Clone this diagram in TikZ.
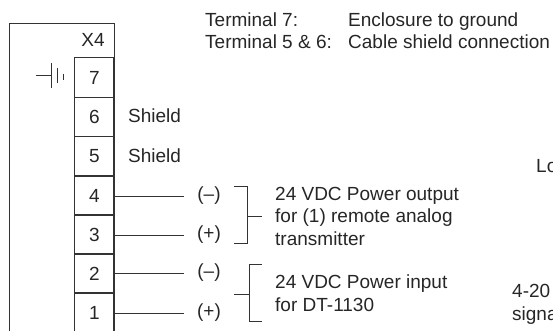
\documentclass[tikz,border=0pt]{standalone}
\usepackage{fontspec}
\setmainfont{Liberation Sans}
\def\terminallist{{77.5/7}, {117/6}, {156.5/5}, {195.5/4}, {234.5/3}, {273.5/2}, {312.5/1}}
\def\wirelist{{4/196/--}, {3/235/+}, {2/273/--}, {1/313/+}}
\tikzstyle{every node}=[font=\fontsize{19}{22.4}\selectfont,text=black!85,inner sep=0pt]
\tikzstyle{terminal}=[draw=black!80,line width=1pt,minimum width=38.7pt,minimum height=39.2pt]
\tikzstyle{polarity}=[minimum width=50pt]
\tikzstyle{note}=[anchor=base west,align=left]
\tikzstyle{wire}=[draw,black!80,line width=1pt]

\begin{document}
\begin{tikzpicture}[x=1pt,y=-1pt]
  \useasboundingbox (0,0) rectangle (553,330);
  \clip (0,0) rectangle (553,330);

  % First we draw the housing and the terminal strip
  \node[draw=black!80,line width=1pt,anchor=north west,minimum width=104.7pt,minimum height=330pt] (housing) at (9,22.7) {};
  \node[anchor=base] (x4) at (93,46.7) {X4};
  \foreach \ypos/\name in \terminallist {
    \node[terminal] (t\name) at (94.3,\ypos) {\name};
  }

  % Wires from the terminals
  \foreach \name/\ypos/\sign in \wirelist {
    \node[polarity] (p\name) at (209,\ypos) {(\sign)};
    \path[wire] (t\name.east |- p\name) -- (p\name);
  }

  % Ground symbol on terminal 7
  \coordinate (gnd) at (36,75.5);
  \coordinate (gnd-a) at (51.7,75.5);
  \path[wire] (gnd) -- (gnd-a);
  \path[wire] (51.7,63) -- (51.7,88);
  \path[wire] (57.3,68) -- (57.3,83);
  \path[wire] (63.3,73.5) -- (63.3,79.5);

  % Texts
  \node[note] (term7) at (205,26) {Terminal 7:};
  \node[note] (term56) at (205,48) {Terminal 5 \& 6:};
  \node[note] (encl) at (348,26) {Enclosure to ground};
  \node[note] (cable) at (348,48) {Cable shield connection};
  \node[note] (shield6) at (128,122.7) {Shield};
  \node[note] (shield5) at (128,162.7) {Shield};
  \node[note] (output) at (275,245) {24 VDC Power output\\for (1) remote analog\\transmitter};
  \node[note] (input) at (275,311) {24 VDC Power input\\for DT-1130};
  \node[note] (loop) at (536,172) {Lo};
  \node[note] (signal) at (512,320) {4-20\\signa};

  % The two brackets
  \coordinate (br1-top) at (234,186.5);
  \coordinate (br1-bot) at (234,243.7);
  \coordinate (br1-mid) at (247.5,216.8);
  \coordinate (br1-end) at (262,216.8);
  \path[wire] (br1-top) -| (br1-mid) |- (br1-bot);
  \path[wire] (br1-mid) -- (br1-end);

  \coordinate (br2-top) at (262,264.3);
  \coordinate (br2-bot) at (262,321);
  \coordinate (br2-mid) at (249.5,294.5);
  \coordinate (br2-end) at (234,294.5);
  \path[wire] (br2-top) -| (br2-mid) |- (br2-bot);
  \path[wire] (br2-mid) -- (br2-end);
\end{tikzpicture}
\end{document}
